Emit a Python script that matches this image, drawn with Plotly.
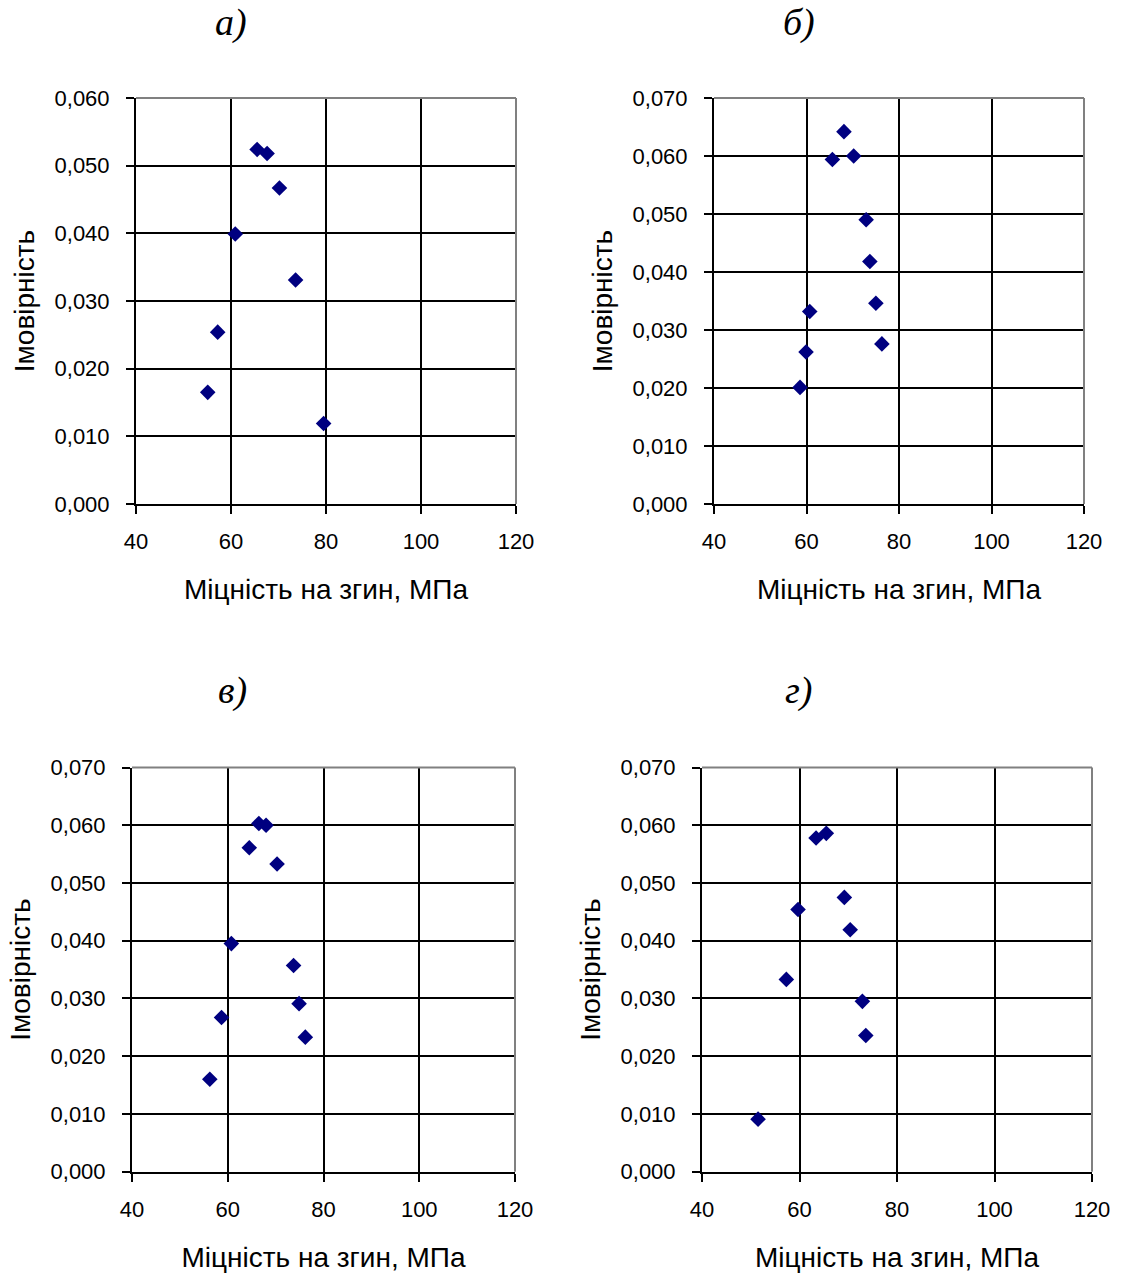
import plotly.graph_objects as go

# Panel a)
a_x = [65.5, 67.6, 70.2, 60.9, 73.6, 57.2, 55.1, 79.5]
a_y = [0.0524, 0.0518, 0.0467, 0.0399, 0.0331, 0.0254, 0.0165, 0.0119]
# Panel б)
b_x = [68.1, 65.6, 70.2, 72.9, 73.7, 75.0, 60.7, 76.3, 59.9, 58.6]
b_y = [0.0642, 0.0594, 0.0600, 0.0490, 0.0418, 0.0346, 0.0332, 0.0276, 0.0262, 0.0201]
# Panel в)
c_x = [66.5, 68.0, 64.5, 70.3, 60.75, 73.75, 74.9, 58.7, 76.2, 56.25]
c_y = [0.0603, 0.0600, 0.0561, 0.0533, 0.0395, 0.0357, 0.0291, 0.0267, 0.0233, 0.0160]
# Panel г)
d_x = [65.5, 63.4, 69.2, 59.7, 70.4, 57.3, 72.9, 73.6, 51.5]
d_y = [0.0586, 0.0578, 0.0475, 0.0454, 0.0419, 0.0333, 0.0295, 0.0236, 0.0091]

panel_labels = ["а)", "б)", "в)", "г)"]
x_title = "Міцність на згин, МПа"
y_title = "Імовірність"
y_max = [0.06, 0.07, 0.07, 0.07]

W, H = 1124, 1274
# pixel boxes (left, right, top, bottom)
boxes = [(136, 516, 98, 504), (714, 1084, 98, 504),
         (132, 515, 767.5, 1171.7), (702, 1092, 767.5, 1171.7)]
label_pos = [(231, 23), (799, 23), (232, 690), (798, 690)]

fig = go.Figure()
data = [(a_x, a_y), (b_x, b_y), (c_x, c_y), (d_x, d_y)]
font = "Liberation Sans, Arial, sans-serif"

for i, ((xs, ys), (l, r, t, b)) in enumerate(zip(data, boxes)):
    n = "" if i == 0 else str(i + 1)
    xa, ya = "x" + n, "y" + n
    fig.add_trace(go.Scatter(x=xs, y=ys, mode="markers", xaxis=xa, yaxis=ya,
                             marker=dict(symbol="diamond", size=12, color="#000080",
                                         line=dict(width=0)),
                             showlegend=False, cliponaxis=False))
    common = dict(showgrid=True, gridcolor="black", gridwidth=2,
                  showline=True, linecolor="black", linewidth=2,
                  ticks="outside", ticklen=8, tickcolor="black", tickwidth=2,
                  zeroline=False, automargin=False,
                  tickfont=dict(family=font, size=22, color="black"))
    fig.layout["xaxis" + n] = dict(
        domain=[l / W, r / W], anchor=ya, range=[40, 120], dtick=20, tick0=40,
        title=dict(text=x_title, font=dict(family=font, size=28, color="black"), standoff=26),
        ticklabelstandoff=9, **common)
    fig.layout["yaxis" + n] = dict(
        domain=[1 - b / H, 1 - t / H], anchor=xa, range=[0, y_max[i]], dtick=0.01, tick0=0,
        tickformat=".3f",
        title=dict(text=y_title, font=dict(family=font, size=28, color="black"), standoff=12),
        ticklabelstandoff=12, **common)
    # gray top and right border
    fig.add_shape(type="line", xref=xa + " domain", yref=ya + " domain",
                  x0=0, x1=1, y0=1, y1=1, line=dict(color="#808080", width=2), layer="above")
    fig.add_shape(type="line", xref=xa + " domain", yref=ya + " domain",
                  x0=1, x1=1, y0=0, y1=1, line=dict(color="#808080", width=2), layer="above")
    lx, ly = label_pos[i]
    fig.add_annotation(text="<i>" + panel_labels[i] + "</i>", xref="paper", yref="paper",
                       x=lx / W, y=1 - ly / H, showarrow=False,
                       xanchor="center", yanchor="middle",
                       font=dict(family="Liberation Serif, Times New Roman, serif", size=38,
                                 color="black"))

fig.update_layout(width=W, height=H, margin=dict(l=0, r=0, t=0, b=0),
                  paper_bgcolor="white", plot_bgcolor="white", separators=", ",
                  font=dict(family=font, color="black"))
fig.write_html("out.html")
